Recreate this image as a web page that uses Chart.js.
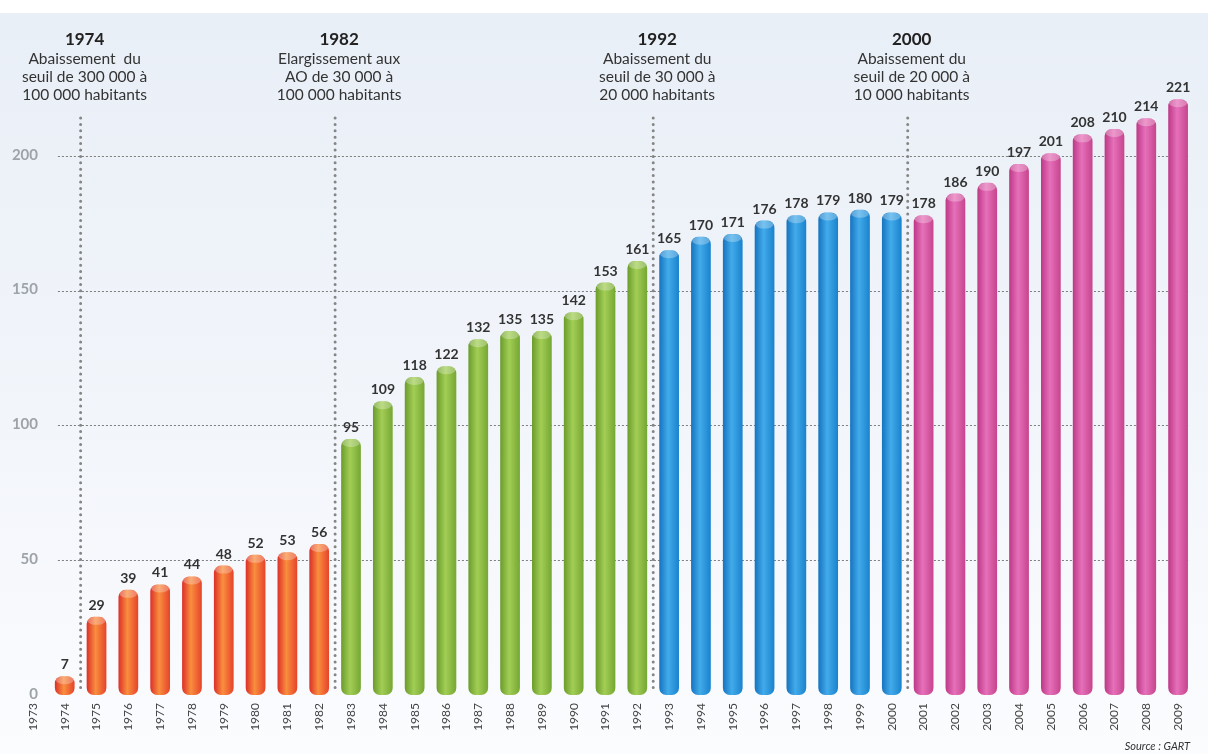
<!DOCTYPE html>
<html>
<head>
<meta charset="utf-8">
<script src="https://cdn.jsdelivr.net/npm/chart.js@4.4.0/dist/chart.umd.min.js"></script>
<style>
  html, body { margin: 0; padding: 0; background: #fff; }
  canvas { display: block; }
</style>
</head>
<body>
<canvas id="c" width="1208" height="754"></canvas>
<script>
// Données : nombre d'AO par année
const annees = ['1973','1974','1975','1976','1977','1978','1979','1980','1981','1982',
  '1983','1984','1985','1986','1987','1988','1989','1990','1991','1992',
  '1993','1994','1995','1996','1997','1998','1999','2000',
  '2001','2002','2003','2004','2005','2006','2007','2008','2009'];
const nbAO = [null, 7, 29, 39, 41, 44, 48, 52, 53, 56,
  95, 109, 118, 122, 132, 135, 135, 142, 153, 161,
  165, 170, 171, 176, 178, 179, 180, 179,
  178, 186, 190, 197, 201, 208, 210, 214, 221];
const ticksY = [0, 50, 100, 150, 200];

// Jalons réglementaires
const jalonsAnnee = ['1974', '1982', '1992', '2000'];
const jalonsTexte = [
  ['Abaissement  du', 'seuil de 300 000 à', '100 000 habitants'],
  ['Elargissement aux', 'AO de 30 000 à', '100 000 habitants'],
  ['Abaissement du', 'seuil de 30 000 à', '20 000 habitants'],
  ['Abaissement du', 'seuil de 20 000 à', '10 000 habitants']
];

// Périodes (couleur des barres)
const debutPeriodes = ['1974', '1983', '1993', '2001'];
const couleurs = [
  ['#dc2f28', '#f98e3e', '#e6432a'],
  ['#6a9b2c', '#a2ce55', '#76a733'],
  ['#1573c0', '#42abea', '#1a82cd'],
  ['#bd3886', '#e670ba', '#c6448d']
];

const FONT = 'Lato, "Open Sans", sans-serif';
const LARGEUR_BARRE = 0.62;

function periode(annee) {
  let p = 0;
  debutPeriodes.forEach((d, k) => { if (annee >= d) p = k; });
  return p;
}

function couleurBarre(c) {
  const chart = c.chart;
  const xs = chart.scales.x;
  if (!xs || !xs.width || c.type !== 'data') return '#999';
  const i = c.dataIndex;
  const col = couleurs[periode(annees[i])];
  const cx = xs.getPixelForValue(i);
  const w = xs.width / annees.length * LARGEUR_BARRE;
  const g = chart.ctx.createLinearGradient(cx - w / 2, 0, cx + w / 2, 0);
  g.addColorStop(0, col[0]);
  g.addColorStop(0.45, col[1]);
  g.addColorStop(1, col[2]);
  return g;
}

// Fond, grille et graduations
const fondPlugin = {
  id: 'fond',
  beforeDraw(chart) {
    const { ctx, chartArea, scales: { x, y } } = chart;
    ctx.save();
    ctx.fillStyle = '#fff';
    ctx.fillRect(0, 0, chart.width, chart.height);
    const g = ctx.createLinearGradient(0, 13, 0, chart.height);
    g.addColorStop(0, '#e9eff7');
    g.addColorStop(0.6, '#f3f6fb');
    g.addColorStop(1, '#fbfcfe');
    ctx.fillStyle = g;
    ctx.fillRect(0, 13, chart.width, chart.height - 13);

    const gx0 = x.getPixelForValue(0) + 25;
    ctx.strokeStyle = '#7d7d7d';
    ctx.lineWidth = 1;
    ctx.setLineDash([2, 2]);
    ticksY.forEach(v => {
      if (v === 0) return;
      const py = Math.round(y.getPixelForValue(v)) + 0.5;
      ctx.beginPath();
      ctx.moveTo(gx0, py);
      ctx.lineTo(chartArea.right - 4, py);
      ctx.stroke();
    });
    ctx.setLineDash([]);

    ctx.fillStyle = '#9ea3a8';
    ctx.font = 'bold 15px ' + FONT;
    ctx.textAlign = 'right';
    ctx.textBaseline = 'middle';
    ticksY.forEach(v => {
      ctx.fillText(String(v), chartArea.left + 21, y.getPixelForValue(v) - 1);
    });
    ctx.restore();
  },
  afterDatasetsDraw(chart) {
    const { ctx, chartArea, scales: { x } } = chart;
    const meta = chart.getDatasetMeta(0);
    ctx.save();
    // reflet sur le dessus des cylindres + valeurs
    meta.data.forEach((el, i) => {
      if (nbAO[i] == null) return;
      const w = el.width;
      ctx.fillStyle = 'rgba(255,255,255,0.28)';
      ctx.beginPath();
      ctx.ellipse(el.x, el.y + 4, w / 2 - 1, 4, 0, 0, Math.PI * 2);
      ctx.fill();
      ctx.fillStyle = '#333';
      ctx.font = 'bold 14px ' + FONT;
      ctx.textAlign = 'center';
      ctx.textBaseline = 'alphabetic';
      ctx.fillText(String(nbAO[i]), el.x, el.y - 7);
    });

    // jalons : lignes pointillées + textes
    jalonsAnnee.forEach((a, k) => {
      const i = annees.indexOf(a);
      const lx = (x.getPixelForValue(i) + x.getPixelForValue(i + 1)) / 2;
      ctx.strokeStyle = '#858585';
      ctx.lineWidth = 3;
      ctx.lineCap = 'round';
      ctx.setLineDash([0, 6.4]);
      ctx.beginPath();
      ctx.moveTo(lx, 118);
      ctx.lineTo(lx, chartArea.bottom - 2);
      ctx.stroke();
      ctx.setLineDash([]);

      const tx = lx + 4;
      ctx.textAlign = 'center';
      ctx.textBaseline = 'middle';
      ctx.fillStyle = '#222';
      ctx.font = 'bold 17px ' + FONT;
      ctx.fillText(a, tx, 40);
      ctx.fillStyle = '#333';
      ctx.font = '15.5px ' + FONT;
      jalonsTexte[k].forEach((l, j) => ctx.fillText(l, tx, 59 + j * 18));
    });

    ctx.fillStyle = '#333';
    ctx.font = 'italic 11px ' + FONT;
    ctx.textAlign = 'right';
    ctx.textBaseline = 'middle';
    ctx.fillText('Source : GART', chartArea.right - 4, 746);
    ctx.restore();
  }
};

new Chart(document.getElementById('c'), {
  type: 'bar',
  data: {
    labels: annees,
    datasets: [{
      data: nbAO,
      backgroundColor: couleurBarre,
      borderWidth: 0,
      borderRadius: 7,
      borderSkipped: false,
      barPercentage: LARGEUR_BARRE,
      categoryPercentage: 1
    }]
  },
  options: {
    responsive: false,
    animation: false,
    layout: { padding: { left: 17, right: 14, top: 75, bottom: 0 } },
    plugins: { legend: { display: false }, tooltip: { enabled: false } },
    scales: {
      x: {
        grid: { display: false, drawTicks: false },
        border: { display: false },
        ticks: {
          autoSkip: false, minRotation: 90, maxRotation: 90, padding: 8,
          color: '#444', font: { size: 12, family: FONT }
        },
        afterFit: s => { s.height = 59; }
      },
      y: { display: false, min: 0, max: 230 }
    }
  },
  plugins: [fondPlugin]
});
</script>
</body>
</html>
